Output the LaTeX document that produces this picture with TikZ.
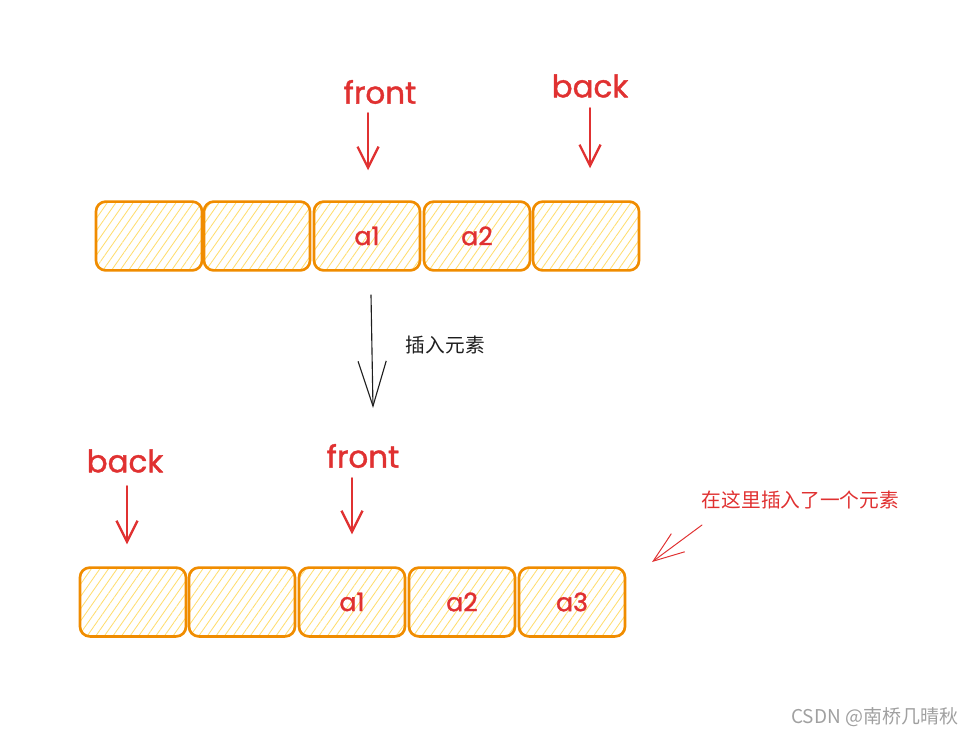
\documentclass[tikz,border=0pt]{standalone}
\usepackage{fontspec}
\setmainfont{Poppins}
\newfontfamily\hand[FakeBold=1.3]{Poppins}
\newfontfamily\cjk{Noto Sans CJK SC}
\usepackage{tikz}
\usetikzlibrary{arrows.meta,patterns.meta,calc}
\definecolor{boxline}{HTML}{F08C00}
\definecolor{hatch}{HTML}{FFDD6E}
\definecolor{redink}{HTML}{E03131}
\definecolor{ink}{HTML}{1E1E1E}
\definecolor{wmark}{HTML}{A0A0A0}
\tikzset{
  every picture/.style={line join=round, line cap=round},
  cell/.style={draw=boxline, line width=1.9pt, rounded corners=7pt,
    pattern={Lines[angle=55,distance=5pt,line width=0.6pt]}, pattern color=hatch,
    minimum width=2.65cm, minimum height=1.72cm, inner sep=0pt,
    text=redink, font=\hand\fontsize{18}{18}\selectfont},
  ptrlabel/.style={text=redink, font=\hand\fontsize{22}{22}\selectfont, inner sep=1pt},
  ptr/.style={draw=redink, line width=1.8pt, -{Straight Barb[length=15pt,width=15pt,line width=1.6pt]}},
}
\begin{document}
\begin{tikzpicture}[x=0.025cm,y=-0.025cm]
    \useasboundingbox (0,0) rectangle (978,736);
    % Queue before insertion
    \foreach \x/\t [count=\i] in {149/,257/,367/a1,477/a2,586/}
      \node[cell] (t\i) at (\x,236) {\t};
    \node[ptrlabel] (tfront) at (380,92) {front};
    \node[ptrlabel] (tback) at (590,86) {back};
    \draw[ptr] ($(t3.north)+(1,-87)$) -- ($(t3.north)+(1,-30)$);
    \draw[ptr] ($(t5.north)+(4,-92)$) -- ($(t5.north)+(4,-32)$);
    % Step arrow
    \coordinate (s0) at (371,295);
    \coordinate (s1) at (373,408);
    \draw[ink, line width=0.8pt, -{Straight Barb[length=32pt,width=20pt,line width=0.8pt]}] (s0) -- (s1);
    \node[ink, font=\cjk\fontsize{14}{14}\selectfont, anchor=west] (step) at (401,345) {插入元素};
    % Queue after insertion
    \foreach \x/\t [count=\i] in {133/,242/,352/a1,462/a2,572/a3}
      \node[cell] (b\i) at (\x,602) {\t};
    \node[ptrlabel] (bback) at (125,461) {back};
    \node[ptrlabel] (bfront) at (363,456) {front};
    \draw[ptr] ($(b1.north)+(-6,-80)$) -- ($(b1.north)+(-6,-22)$);
    \draw[ptr] ($(b3.north)+(0,-88)$) -- ($(b3.north)+(0,-32)$);
    % Note
    \node[redink, font=\cjk\fontsize{14}{14}\selectfont, anchor=west] (note) at (697,500) {在这里插入了一个元素};
    \coordinate (n0) at (702,525);
    \coordinate (n1) at (652,562);
    \draw[redink, line width=0.7pt, -{Straight Barb[length=22pt,width=16pt,line width=0.7pt]}] (n0) -- (n1);
    % Watermark
    \node[wmark, font=\cjk\fontsize{13.5}{13.5}\selectfont, anchor=east] (wm) at (963,717) {CSDN @南桥几晴秋};
\end{tikzpicture}
\end{document}
